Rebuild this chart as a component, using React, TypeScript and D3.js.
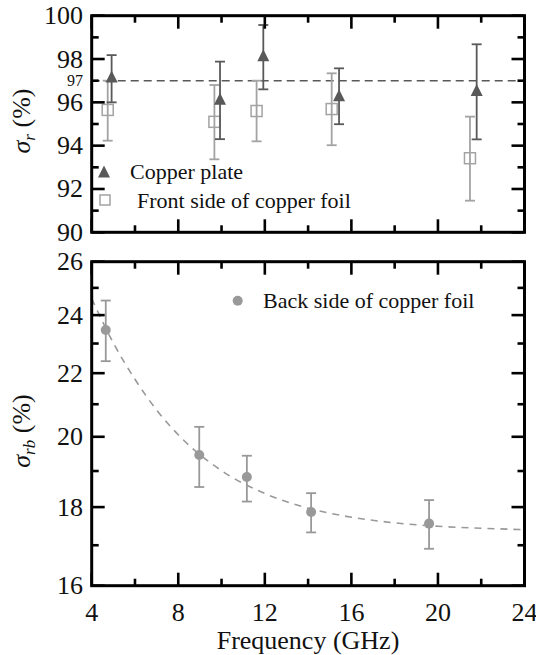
import React from "react";
import * as d3 from "d3";

// frequency axis
const freqMajor = [4, 8, 12, 16, 20, 24];
const freqMinor = [6, 10, 14, 18, 22];

// top panel: sigma_r (%)
const rMajor = [90, 92, 94, 96, 98, 100];
const rMinor = [91, 93, 95, 97, 99];
const refLevel = 97;

const copperFreq = [4.92, 9.93, 11.93, 15.43, 21.79];
const copperVal = [97.12, 96.1, 98.1, 96.26, 96.5];
const copperLo = [96.0, 94.3, 96.6, 94.99, 94.29];
const copperHi = [98.18, 97.88, 99.57, 97.57, 98.68];

const frontFreq = [4.74, 9.67, 11.62, 15.09, 21.48];
const frontVal = [95.65, 95.1, 95.6, 95.69, 93.42];
const frontLo = [94.23, 93.37, 94.2, 94.02, 91.46];
const frontHi = [97.0, 96.8, 97.0, 97.34, 95.34];

// bottom panel: sigma_rb (%), log axis
const rbMajor = [16, 18, 20, 22, 24, 26];
const rbMinor = [17, 19, 21, 23, 25];

const backFreq = [4.65, 8.97, 11.17, 14.14, 19.59];
const backVal = [23.47, 19.46, 18.83, 17.87, 17.56];
const backLo = [22.4, 18.55, 18.15, 17.33, 16.91];
const backHi = [24.53, 20.3, 19.44, 18.38, 18.19];

// dashed fit curve
const fitFreq = [4, 5, 6, 7, 8, 10, 12, 14, 16, 18, 20, 22, 24];
const fitVal = [24.6, 23.02, 21.8, 20.82, 20.06, 19.01, 18.37, 17.97, 17.73, 17.58, 17.49, 17.44, 17.4];

const FONT = "Liberation Serif";
const DARK = "#595959";
const LIGHT = "#a3a3a3";
const MID = "#999999";

const x = d3.scaleLinear().domain([4, 24]).range([91.7, 524.5]);
const yTop = d3.scaleLinear().domain([90, 100]).range([232.3, 15.7]);
const yBot = d3.scaleLog().domain([16, 26]).range([585.7, 261.7]);

function T(props) {
  return <text fontFamily={FONT} fill="#111" {...props} />;
}

function Frame({ y, major, minor }) {
  const [x0, x1] = x.range();
  const [yb, yt] = y.range();
  const big = 13;
  const small = 7;
  return (
    <g stroke="#000" strokeWidth={2.6}>
      {major.map((v) => (
        <g key={"M" + v}>
          <line x1={x0} x2={x0 + big} y1={y(v)} y2={y(v)} />
          <line x1={x1} x2={x1 - big} y1={y(v)} y2={y(v)} />
        </g>
      ))}
      {minor.map((v) => (
        <g key={"m" + v}>
          <line x1={x0} x2={x0 + small} y1={y(v)} y2={y(v)} />
          <line x1={x1} x2={x1 - small} y1={y(v)} y2={y(v)} />
        </g>
      ))}
      {freqMajor.map((f) => (
        <g key={"F" + f}>
          <line x1={x(f)} x2={x(f)} y1={yb} y2={yb - big} />
          <line x1={x(f)} x2={x(f)} y1={yt} y2={yt + big} />
        </g>
      ))}
      {freqMinor.map((f) => (
        <g key={"f" + f}>
          <line x1={x(f)} x2={x(f)} y1={yb} y2={yb - small} />
          <line x1={x(f)} x2={x(f)} y1={yt} y2={yt + small} />
        </g>
      ))}
      <rect x={x0} y={yt} width={x1 - x0} height={yb - yt} fill="none" strokeWidth={3} />
    </g>
  );
}

function ErrBars({ fx, lo, hi, y, color }) {
  return (
    <g stroke={color} strokeWidth={1.8}>
      {fx.map((f, i) => (
        <g key={i}>
          <line x1={x(f)} x2={x(f)} y1={y(lo[i])} y2={y(hi[i])} />
          <line x1={x(f) - 5} x2={x(f) + 5} y1={y(lo[i])} y2={y(lo[i])} />
          <line x1={x(f) - 5} x2={x(f) + 5} y1={y(hi[i])} y2={y(hi[i])} />
        </g>
      ))}
    </g>
  );
}

const tri = (cx, cy) => `M${cx - 6},${cy + 4.5}L${cx + 6},${cy + 4.5}L${cx},${cy - 7.5}Z`;

export default function App() {
  const fitLine = d3
    .line()
    .x((d) => x(d[0]))
    .y((d) => yBot(d[1]))
    .curve(d3.curveMonotoneX)(fitFreq.map((f, i) => [f, fitVal[i]]));

  return (
    <svg
      width={536}
      height={655}
      style={{ position: "absolute", left: 0, top: 0, background: "#fff" }}
    >
      {/* ---- top panel ---- */}
      <line
        x1={x(4)}
        x2={x(24)}
        y1={yTop(refLevel)}
        y2={yTop(refLevel)}
        stroke={DARK}
        strokeWidth={1.6}
        strokeDasharray="8,5"
      />
      <ErrBars fx={frontFreq} lo={frontLo} hi={frontHi} y={yTop} color={LIGHT} />
      {frontFreq.map((f, i) => (
        <rect
          key={i}
          x={x(f) - 5.5}
          y={yTop(frontVal[i]) - 5.5}
          width={11}
          height={11}
          fill="none"
          stroke={LIGHT}
          strokeWidth={1.5}
        />
      ))}
      <ErrBars fx={copperFreq} lo={copperLo} hi={copperHi} y={yTop} color={DARK} />
      {copperFreq.map((f, i) => (
        <path key={i} d={tri(x(f), yTop(copperVal[i]))} fill={DARK} />
      ))}
      <Frame y={yTop} major={rMajor} minor={rMinor} />
      {rMajor.map((v) => (
        <T key={v} x={83} y={yTop(v) + 8.5} fontSize={26} textAnchor="end">
          {v}
        </T>
      ))}
      <T x={83} y={yTop(refLevel) + 5.5} fontSize={16} textAnchor="end">
        {refLevel}
      </T>

      <path d={tri(104, 173)} fill={DARK} />
      <T x={130} y={179} fontSize={22}>Copper plate</T>
      <rect x={100} y={195} width={10} height={10} fill="none" stroke={LIGHT} strokeWidth={1.5} />
      <T x={137} y={208} fontSize={22}>Front side of copper foil</T>

      <T transform="translate(30,121) rotate(-90)" fontSize={26} textAnchor="middle">
        <tspan fontStyle="italic">σ</tspan>
        <tspan fontStyle="italic" fontSize={17} dy={5}>r</tspan>
        <tspan dy={-5}> (%)</tspan>
      </T>

      {/* ---- bottom panel ---- */}
      <path d={fitLine} fill="none" stroke={MID} strokeWidth={1.6} strokeDasharray="7,6" />
      <ErrBars fx={backFreq} lo={backLo} hi={backHi} y={yBot} color={MID} />
      {backFreq.map((f, i) => (
        <circle key={i} cx={x(f)} cy={yBot(backVal[i])} r={5} fill={MID} />
      ))}
      <Frame y={yBot} major={rbMajor} minor={rbMinor} />
      {rbMajor.map((v) => (
        <T key={v} x={83} y={yBot(v) + 8.5} fontSize={26} textAnchor="end">
          {v}
        </T>
      ))}
      {freqMajor.map((f) => (
        <T key={f} x={x(f)} y={621} fontSize={26} textAnchor="middle">
          {f}
        </T>
      ))}
      <circle cx={237.7} cy={300.7} r={5} fill={MID} />
      <T x={263} y={308} fontSize={22}>Back side of copper foil</T>

      <T transform="translate(30,431) rotate(-90)" fontSize={26} textAnchor="middle">
        <tspan fontStyle="italic">σ</tspan>
        <tspan fontStyle="italic" fontSize={17} dy={5}>rb</tspan>
        <tspan dy={-5}> (%)</tspan>
      </T>

      <T x={308} y={649} fontSize={26} textAnchor="middle">
        Frequency (GHz)
      </T>
    </svg>
  );
}
